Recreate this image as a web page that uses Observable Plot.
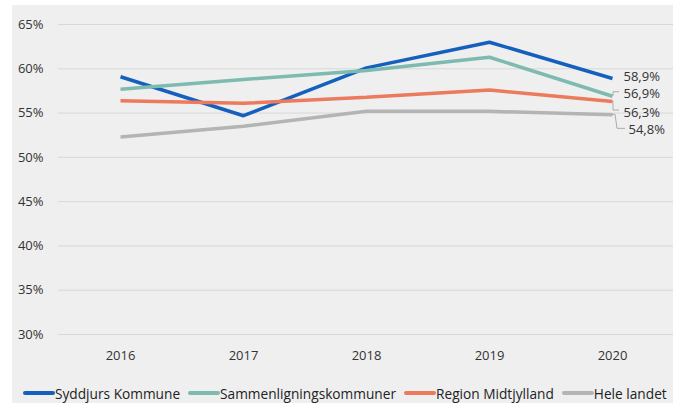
<!DOCTYPE html>
<html>
<head>
<meta charset="utf-8">
<script src="https://cdn.jsdelivr.net/npm/d3@7"></script>
<script src="https://cdn.jsdelivr.net/npm/@observablehq/plot@0.6"></script>
<style>
  html, body { margin: 0; padding: 0; background: #ffffff; }
  body { width: 683px; height: 403px; position: relative; overflow: hidden; font-family: "Open Sans", sans-serif; }
  #panel { position: absolute; left: 12px; top: 5px; width: 661px; height: 398px; background: #efefef; }
  #chart svg { display: block; background: transparent; }
  #legend { position: absolute; left: 11px; top: 378px; height: 20px; display: flex; align-items: center; font-size: 13.7px; color: #222; white-space: nowrap; }
  .item { display: flex; align-items: center; margin-right: 8px; }
  .sw { width: 32px; height: 4px; border-radius: 2px; }
</style>
</head>
<body>
<div id="panel">
  <div id="chart"></div>
  <div id="legend"></div>
</div>
<script>
const years = ["2016", "2017", "2018", "2019", "2020"];
const seriesNames = ["Syddjurs Kommune", "Sammenligningskommuner", "Region Midtjylland", "Hele landet"];
const syddjurs = [59.1, 54.7, 60.1, 63.0, 58.9];
const sammenligning = [57.7, 58.8, 59.8, 61.3, 56.9];
const region = [56.4, 56.1, 56.8, 57.6, 56.3];
const heleLandet = [52.3, 53.5, 55.2, 55.2, 54.8];
const yTicks = [30, 35, 40, 45, 50, 55, 60, 65];
const colors = ["#1560bd", "#7dbab0", "#ec7a5c", "#b4b4b4"];

const valuesBySeries = [syddjurs, sammenligning, region, heleLandet];
const data = [];
seriesNames.forEach((s, i) => years.forEach((y, j) => data.push({series: s, year: y, value: valuesBySeries[i][j]})));
const last = data.filter(d => d.year === years[years.length - 1]);

// label style offsets (pixels) per series
const labelStyle = {
  "Syddjurs Kommune": {dx: 11, dy: -2.2, leader: null},
  "Sammenligningskommuner": {dx: 11, dy: -2, leader: [[1,0],[1,-4],[7,-4]]},
  "Region Midtjylland": {dx: 11, dy: 10.8, leader: [[1,0],[1,9],[7,9]]},
  "Hele landet": {dx: 16, dy: 15.4, leader: [[0,0],[3,0],[5,14],[13,14]]}
};

const fmt = v => v.toFixed(1).replace(".", ",") + "%";

const textMarks = seriesNames.map(s => Plot.text(last.filter(d => d.series === s), {
  x: "year", y: "value", text: d => fmt(d.value),
  dx: labelStyle[s].dx, dy: labelStyle[s].dy, textAnchor: "start",
  fontSize: 13, fill: "#333"
}));

const leaderMark = (index, scales) => {
  const g = d3.create("svg:g");
  last.forEach(d => {
    const L = labelStyle[d.series].leader;
    if (!L) return;
    const px = scales.x(d.year), py = scales.y(d.value);
    g.append("path")
      .attr("d", "M" + L.map(p => (px + p[0]) + "," + (py + p[1])).join("L"))
      .attr("fill", "none").attr("stroke", "#aaaaaa").attr("stroke-width", 1);
  });
  return g.node();
};

const plot = Plot.plot({
  width: 661,
  height: 365,
  marginLeft: 46,
  marginRight: 0,
  marginTop: 19,
  marginBottom: 36,
  style: {fontFamily: "Open Sans, sans-serif", fontSize: "13px", color: "#333", background: "transparent"},
  x: {type: "point", domain: years, padding: 0.5},
  y: {domain: [30, 65]},
  color: {domain: seriesNames, range: colors},
  marks: [
    Plot.gridY(yTicks, {stroke: "#d8d8d8", strokeOpacity: 1, strokeWidth: 1}),
    Plot.axisY(yTicks, {tickSize: 0, tickPadding: 15, tickFormat: d => d + "%", fontSize: 13, fill: "#333", label: null}),
    Plot.axisX({tickSize: 0, tickPadding: 16, fontSize: 13, fill: "#333", label: null}),
    Plot.line(data, {x: "year", y: "value", z: "series", stroke: "series", strokeWidth: 3.5, strokeLinejoin: "miter", strokeLinecap: "butt"}),
    leaderMark,
    ...textMarks
  ]
});
document.getElementById("chart").appendChild(plot);

const legend = document.getElementById("legend");
seriesNames.forEach((s, i) => {
  const item = document.createElement("div");
  item.className = "item";
  const sw = document.createElement("span");
  sw.className = "sw";
  sw.style.background = colors[i];
  const t = document.createElement("span");
  t.textContent = s;
  item.appendChild(sw);
  item.appendChild(t);
  legend.appendChild(item);
});
</script>
</body>
</html>
